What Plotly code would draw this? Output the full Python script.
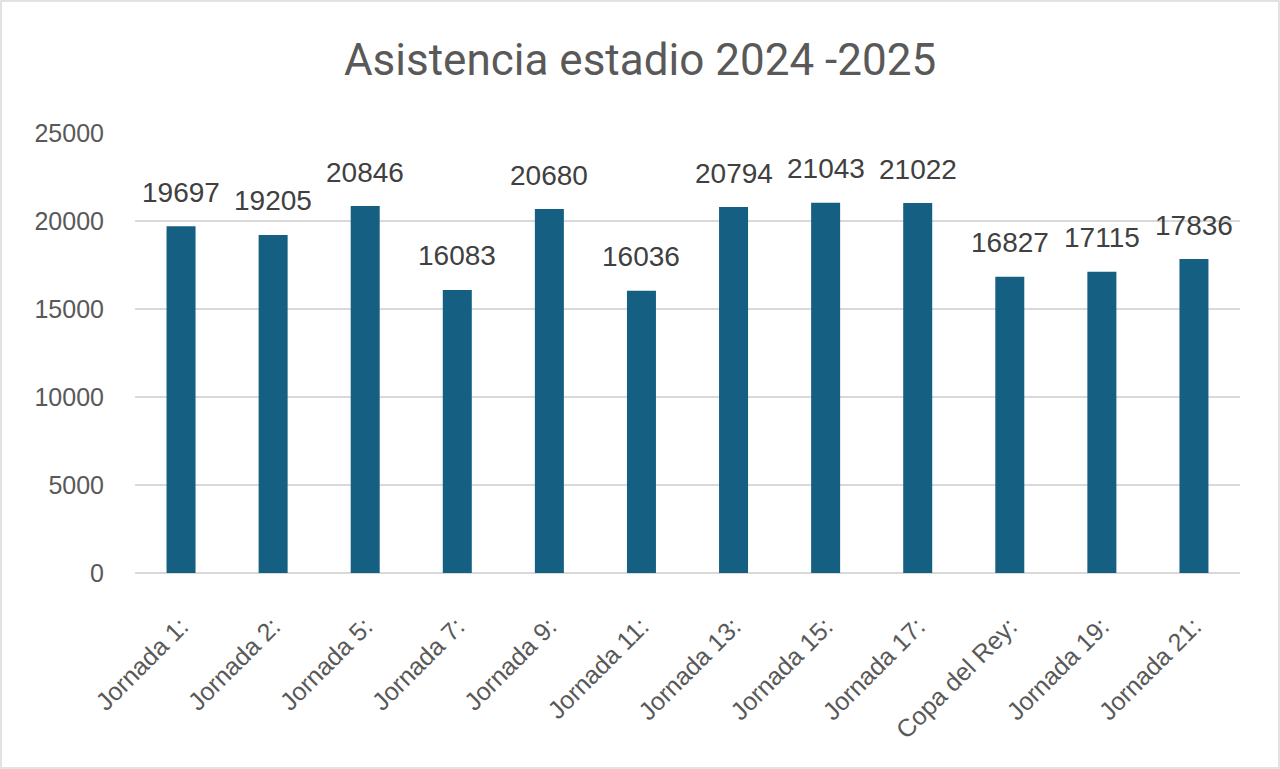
import plotly.graph_objects as go

categories = ["Jornada 1:", "Jornada 2:", "Jornada 5:", "Jornada 7:", "Jornada 9:", "Jornada 11:",
              "Jornada 13:", "Jornada 15:", "Jornada 17:", "Copa del Rey:", "Jornada 19:", "Jornada 21:"]
asistencia = [19697, 19205, 20846, 16083, 20680, 16036, 20794, 21043, 21022, 16827, 17115, 17836]
y_ticks = [0, 5000, 10000, 15000, 20000, 25000]

W, H = 1280, 769
L, R, T, B = 135, 40, 133, 196
pw, ph = W - L - R, H - T - B

fig = go.Figure()
fig.add_trace(go.Bar(x=categories, y=asistencia, marker=dict(color="#156082", line=dict(width=0)),
                     hoverinfo="x+y"))

for c, v in zip(categories, asistencia):
    fig.add_annotation(x=c, y=v, text=str(v), showarrow=False, yanchor="middle", yshift=34,
                       font=dict(family="Liberation Sans, Arial", size=28, color="#404040"))

fig.add_shape(type="rect", xref="paper", yref="paper",
              x0=-(L - 1) / pw, x1=1 + (R - 1) / pw, y0=-(B - 1) / ph, y1=1 + (T - 1) / ph,
              line=dict(color="#d9d9d9", width=1.5), layer="below")

fig.update_layout(
    width=W, height=H,
    margin=dict(l=L, r=R, t=T, b=B),
    paper_bgcolor="white", plot_bgcolor="white",
    bargap=0.685,
    showlegend=False,
    title=dict(text="Asistencia estadio 2024 -2025", x=0.5, xref="container", xanchor="center",
               y=1 - 60 / H, yanchor="middle",
               font=dict(family="Roboto, Arial", size=44, color="#595959")),
    xaxis=dict(tickangle=-45, tickfont=dict(family="Liberation Sans, Arial", size=25, color="#595959"),
               showgrid=False, showline=False, ticks="", ticklabelstandoff=33),
    yaxis=dict(range=[0, 25000], tickvals=y_ticks, ticktext=[str(t) for t in y_ticks],
               tickfont=dict(family="Liberation Sans, Arial", size=25, color="#595959"),
               showgrid=True, gridcolor="#d9d9d9", gridwidth=1.5,
               zeroline=True, zerolinecolor="#d9d9d9", zerolinewidth=1.5,
               showline=False, ticks="", ticklabelstandoff=30),
)

fig.write_html("out.html", config={"displayModeBar": False},
               post_script="document.body.style.margin='0px';")
